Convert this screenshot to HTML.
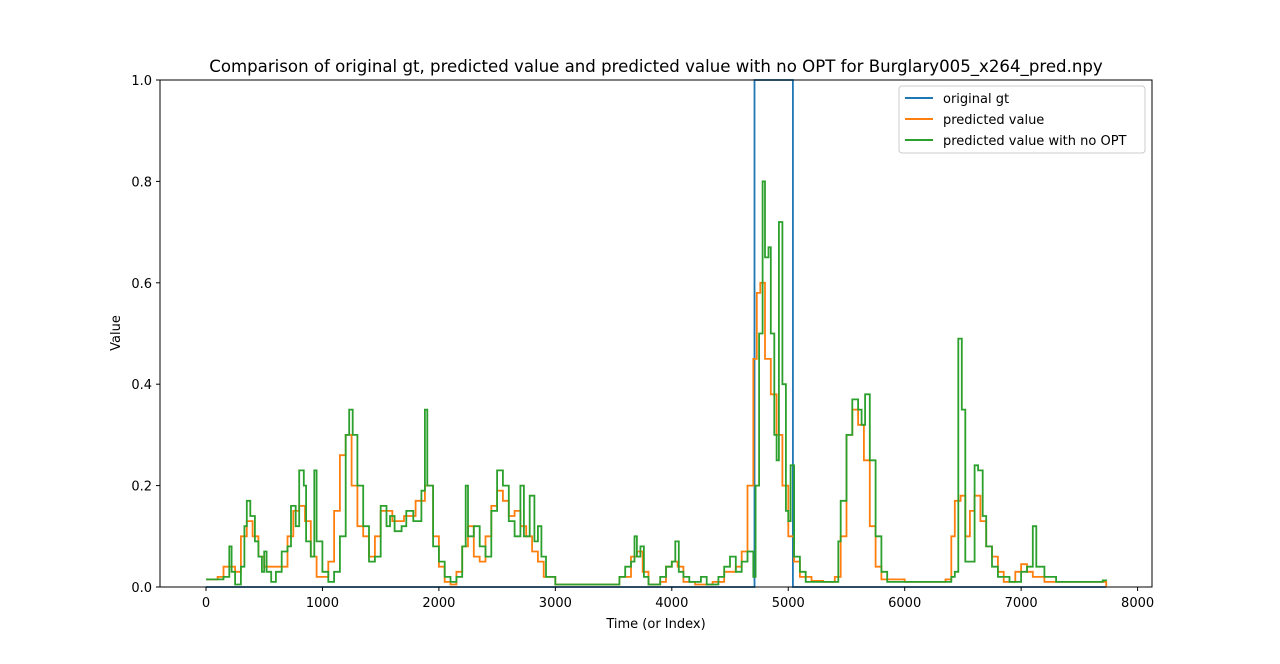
<!DOCTYPE html>
<html><head><meta charset="utf-8"><style>
body{margin:0;background:#fff;font-family:"DejaVu Sans","Liberation Sans",sans-serif}
svg text{font-family:"DejaVu Sans","Liberation Sans",sans-serif}
</style></head><body>
<svg id="chart" width="1280" height="660" xmlns="http://www.w3.org/2000/svg">
<rect width="1280" height="660" fill="#fff"/>
<text x="656" y="72" text-anchor="middle" font-size="16.6">Comparison of original gt, predicted value and predicted value with no OPT for Burglary005_x264_pred.npy</text>
<g id="series"></g>
<rect x="160" y="80" width="992" height="507" fill="none" stroke="#000" stroke-width="1"/>
<g id="axes"></g>
<text x="656" y="628" text-anchor="middle" font-size="13">Time (or Index)</text>
<text transform="translate(120,333) rotate(-90)" text-anchor="middle" font-size="13">Value</text>
<g>
<rect x="899" y="86" width="246" height="67" rx="3" fill="#fff" fill-opacity="0.8" stroke="#ccc"/>
<line x1="905" y1="98" x2="933" y2="98" stroke="#1f77b4" stroke-width="2"/>
<text x="943" y="103" font-size="13">original gt</text>
<line x1="905" y1="119" x2="933" y2="119" stroke="#ff7f0e" stroke-width="2"/>
<text x="943" y="124" font-size="13">predicted value</text>
<line x1="905" y1="140" x2="933" y2="140" stroke="#2ca02c" stroke-width="2"/>
<text x="943" y="145" font-size="13">predicted value with no OPT</text>
</g>
</svg>
<script>
const xTicks=[0,1000,2000,3000,4000,5000,6000,7000,8000];
const yTicks=[0.0,0.2,0.4,0.6,0.8,1.0];
const gtX=[0,4710,5040,7730];
const gtY=[0,1,0,0];
const predX=[0,100,150,250,300,350,400,450,500,600,700,750,800,850,900,950,1000,1050,1100,1150,1200,1250,1300,1350,1400,1450,1500,1600,1700,1800,1880,1950,2000,2050,2100,2150,2200,2250,2300,2350,2400,2450,2500,2550,2600,2650,2700,2750,2800,2850,2900,3000,3200,3400,3550,3650,3700,3750,3800,3900,3950,4000,4050,4100,4200,4350,4450,4550,4600,4650,4700,4730,4760,4800,4850,4900,4950,5000,5050,5100,5200,5300,5400,5450,5500,5550,5600,5650,5700,5750,5800,6000,6200,6350,6400,6430,6480,6520,6560,6600,6650,6700,6750,6800,6850,6950,7000,7050,7100,7200,7500,7730];
const predY=[0.015,0.02,0.04,0.03,0.1,0.13,0.1,0.06,0.04,0.04,0.1,0.15,0.16,0.13,0.06,0.02,0.02,0.05,0.15,0.26,0.3,0.2,0.12,0.1,0.06,0.1,0.15,0.13,0.14,0.17,0.2,0.1,0.04,0.01,0.005,0.03,0.08,0.12,0.06,0.05,0.1,0.16,0.19,0.17,0.14,0.15,0.12,0.1,0.07,0.05,0.02,0.005,0.005,0.005,0.02,0.06,0.07,0.03,0.005,0.01,0.04,0.05,0.04,0.01,0.005,0.01,0.03,0.04,0.07,0.2,0.45,0.58,0.6,0.45,0.38,0.3,0.2,0.1,0.05,0.02,0.012,0.01,0.02,0.1,0.3,0.35,0.32,0.25,0.12,0.04,0.015,0.01,0.01,0.015,0.1,0.17,0.18,0.1,0.15,0.18,0.13,0.08,0.06,0.03,0.01,0.03,0.045,0.03,0.02,0.01,0.01,0.0];
const noOptX=[0,150,200,220,250,300,330,350,380,420,450,480,500,520,560,600,650,700,730,770,800,840,860,900,930,950,1000,1050,1100,1150,1200,1230,1260,1300,1350,1400,1450,1500,1550,1580,1620,1680,1720,1780,1850,1880,1900,1950,2000,2050,2100,2150,2200,2230,2250,2300,2350,2400,2450,2500,2550,2600,2650,2700,2730,2780,2820,2850,2880,2920,3000,3200,3500,3550,3600,3650,3680,3700,3730,3760,3800,3900,3950,4000,4030,4060,4100,4150,4250,4300,4400,4450,4500,4550,4600,4650,4700,4720,4750,4780,4800,4830,4850,4880,4900,4920,4950,4980,5000,5020,5050,5100,5150,5250,5400,5430,5450,5500,5550,5600,5630,5660,5700,5750,5800,5850,6000,6200,6400,6430,6460,6490,6520,6560,6600,6630,6670,6700,6750,6800,6900,7000,7050,7100,7130,7200,7300,7500,7700,7730];
const noOptY=[0.015,0.02,0.08,0.03,0.005,0.04,0.12,0.17,0.14,0.09,0.06,0.03,0.07,0.03,0.01,0.03,0.07,0.08,0.16,0.12,0.23,0.2,0.09,0.06,0.23,0.09,0.03,0.01,0.03,0.1,0.3,0.35,0.3,0.2,0.12,0.05,0.06,0.16,0.12,0.14,0.11,0.12,0.15,0.13,0.19,0.35,0.2,0.08,0.05,0.02,0.01,0.02,0.08,0.2,0.1,0.12,0.08,0.06,0.15,0.23,0.2,0.13,0.1,0.2,0.1,0.18,0.09,0.12,0.06,0.02,0.005,0.005,0.005,0.02,0.04,0.05,0.1,0.06,0.08,0.02,0.005,0.02,0.04,0.05,0.09,0.03,0.02,0.01,0.02,0.005,0.02,0.04,0.06,0.03,0.05,0.07,0.02,0.2,0.5,0.8,0.65,0.67,0.5,0.3,0.25,0.72,0.4,0.15,0.13,0.24,0.06,0.03,0.01,0.01,0.01,0.09,0.17,0.3,0.37,0.35,0.32,0.38,0.25,0.1,0.03,0.01,0.01,0.01,0.02,0.03,0.49,0.35,0.05,0.05,0.24,0.23,0.14,0.08,0.04,0.02,0.01,0.03,0.04,0.12,0.04,0.02,0.01,0.01,0.013,0.012];

const NS="http://www.w3.org/2000/svg";
function xs(v){return 206+v*0.11645;}
function ys(v){return 587-v*507;}
function stepPath(X,Y){
  let d="M"+xs(X[0]).toFixed(1)+","+ys(Y[0]).toFixed(1);
  for(let i=1;i<X.length;i++){
    d+="H"+xs(X[i]).toFixed(1)+"V"+ys(Y[i]).toFixed(1);
  }
  return d;
}
const g=document.getElementById('series');
function addLine(X,Y,color,name){
  const p=document.createElementNS(NS,'path');
  p.setAttribute('d',stepPath(X,Y));
  p.setAttribute('fill','none');p.setAttribute('stroke',color);p.setAttribute('stroke-width','1.8');
  
  
  g.appendChild(p);
}
addLine(gtX,gtY,'#1f77b4','original-gt-line');
addLine(predX,predY,'#ff7f0e','predicted-value-line');
addLine(noOptX,noOptY,'#2ca02c','predicted-no-opt-line');
const ax=document.getElementById('axes');
xTicks.forEach(t=>{
  const l=document.createElementNS(NS,'line');
  l.setAttribute('x1',xs(t));l.setAttribute('x2',xs(t));l.setAttribute('y1',587);l.setAttribute('y2',591);l.setAttribute('stroke','#000');
  
  
  ax.appendChild(l);
  const tx=document.createElementNS(NS,'text');
  tx.setAttribute('x',xs(t));tx.setAttribute('y',607);tx.setAttribute('text-anchor','middle');tx.setAttribute('font-size','13');
  tx.textContent=t;
  
  
  ax.appendChild(tx);
});
yTicks.forEach(t=>{
  const l=document.createElementNS(NS,'line');
  l.setAttribute('x1',156);l.setAttribute('x2',160);l.setAttribute('y1',ys(t));l.setAttribute('y2',ys(t));l.setAttribute('stroke','#000');
  
  
  ax.appendChild(l);
  const tx=document.createElementNS(NS,'text');
  tx.setAttribute('x',152);tx.setAttribute('y',ys(t)+5);tx.setAttribute('text-anchor','end');tx.setAttribute('font-size','13');
  tx.textContent=t.toFixed(1);
  
  
  ax.appendChild(tx);
});
</script>
</body></html>
